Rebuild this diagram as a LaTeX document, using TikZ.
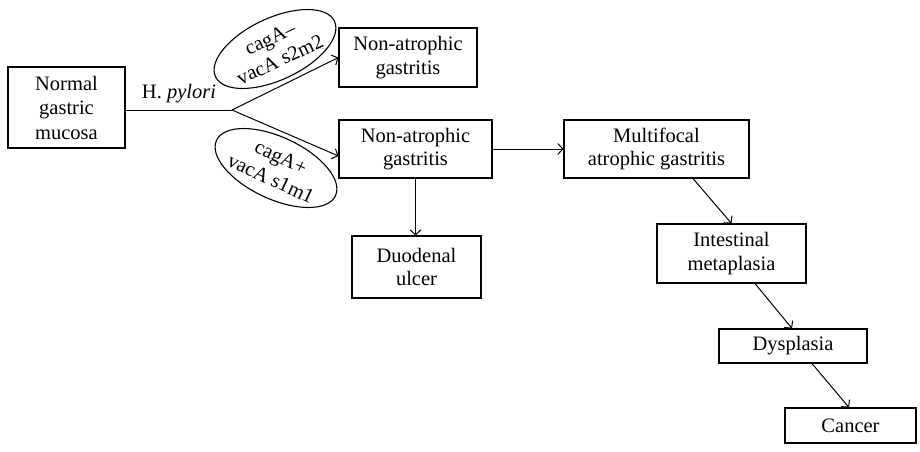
\documentclass[tikz,border=0pt]{standalone}
\usepackage{fontspec}
\setmainfont{Liberation Serif}
\usetikzlibrary{arrows.meta,shapes.geometric}
\newcommand{\figfs}{\fontsize{20.5}{23.5}\selectfont}
\begin{document}
\begin{tikzpicture}[x=1pt,y=1pt,
  box/.style={draw, line width=1.1pt, inner sep=0pt, align=center, font=\figfs},
  ell/.style={draw, ellipse, line width=1.1pt, inner sep=0pt, align=center, font=\figfs},
  conn/.style={line width=1pt, -{Straight Barb[length=5pt,width=11pt]}},
  plain/.style={line width=1pt}]
\useasboundingbox (0,0) rectangle (920,-451);
\node[box, minimum width=117pt, minimum height=81pt, font=\fontsize{20.5}{24.5}\selectfont] (normal) at (66.5,-107.5) {Normal\\gastric\\mucosa};
\node[box, minimum width=138pt, minimum height=59pt] (na1) at (408,-57.5) {Non-atrophic\\gastritis};
\node[box, minimum width=153pt, minimum height=58pt] (na2) at (415.5,-149) {Non-atrophic\\gastritis};
\node[box, minimum width=185pt, minimum height=58pt] (multi) at (656.5,-149) {Multifocal\\atrophic gastritis};
\node[box, minimum width=129pt, minimum height=62pt] (duo) at (416.5,-267) {Duodenal\\ulcer};
\node[box, minimum width=149pt, minimum height=59pt] (intest) at (731.5,-253.5) {Intestinal\\metaplasia};
\node[box, minimum width=148pt, minimum height=34pt] (dysp) at (793,-346) {Dysplasia};
\node[box, minimum width=131pt, minimum height=35pt] (cancer) at (850.5,-425.5) {Cancer};
\node[ell, rotate=25, minimum width=124pt, minimum height=62pt] (e1) at (275,-49) {cagA\textendash\\vacA s2m2};
\node[ell, rotate=-25, minimum width=124pt, minimum height=62pt] (e2) at (276,-168) {cagA+\\vacA s1m1};
\node[font=\figfs, anchor=base, inner sep=0pt] (hp) at (179,-98) {H. \textit{pylori}};
\coordinate (br) at (232,-110);
\draw[plain] (br -| normal.east) -- (br);
\draw[conn] (br) -- (na1.west);
\draw[conn] (br) -- ([yshift=-7pt]na2.west);
\draw[conn] (na2.east) -- (multi.west);
\draw[conn] (na2.south) -- (na2.south |- duo.north);
\draw[conn] ([xshift=36.5pt]multi.south) -- (intest.north);
\draw[conn] ([xshift=23.5pt]intest.south) -- ([xshift=-1pt]dysp.north);
\draw[conn] ([xshift=19pt]dysp.south) -- ([xshift=-1.5pt]cancer.north);
\end{tikzpicture}
\end{document}
